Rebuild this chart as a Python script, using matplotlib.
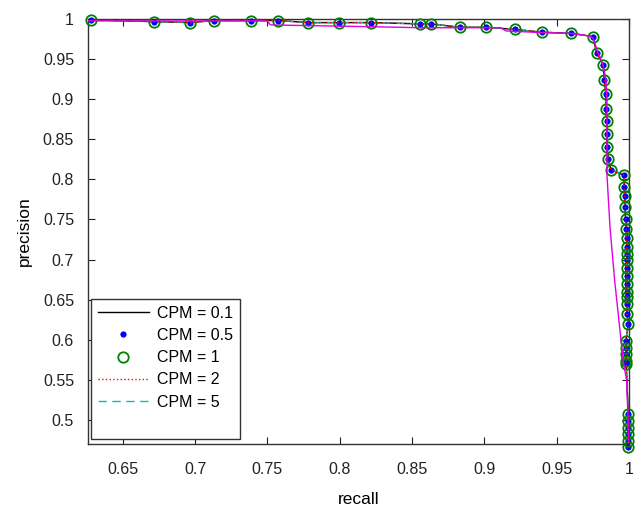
import matplotlib
matplotlib.use("Agg")
import matplotlib.pyplot as plt
from matplotlib.lines import Line2D

plt.rcParams['font.family'] = ['Liberation Sans', 'DejaVu Sans']

# puntos de la curva precision/recall (los CPM casi coinciden)
recall = [0.628, 0.6718, 0.6966, 0.7132, 0.739, 0.7576, 0.7783, 0.7997, 0.8217,
          0.8557, 0.8633, 0.8828, 0.9012, 0.9208, 0.9399, 0.9601, 0.9748, 0.9776,
          0.9821, 0.9828, 0.984, 0.9838, 0.9847, 0.9847, 0.9847, 0.9856, 0.9874,
          0.9966, 0.9966, 0.9970, 0.9972, 0.9975, 0.9980, 0.9983, 0.9983, 0.9985,
          0.9985, 0.9985, 0.9985, 0.9985, 0.9985, 0.9985, 0.9985, 0.9985, 0.9994,
          0.9978, 0.9978, 0.9978, 0.9978, 0.9980,
          0.9994, 0.9994, 0.9994, 0.9994, 0.9994, 0.9994]
precision = [0.9988, 0.9966, 0.9954, 0.998, 0.998, 0.998, 0.9954, 0.9954, 0.9954,
             0.9938, 0.9938, 0.9896, 0.9896, 0.987, 0.9834, 0.982, 0.978, 0.958,
             0.943, 0.924, 0.906, 0.888, 0.873, 0.856, 0.840, 0.825, 0.812,
             0.805, 0.790, 0.779, 0.766, 0.751, 0.738, 0.727, 0.716, 0.707,
             0.699, 0.690, 0.680, 0.670, 0.659, 0.653, 0.645, 0.632, 0.620,
             0.599, 0.590, 0.582, 0.574, 0.570,
             0.507, 0.499, 0.490, 0.482, 0.474, 0.466]

# curva magenta (sin leyenda)
recall_m = [0.626, 0.750, 0.752, 0.830, 0.856, 0.911, 0.915, 0.939, 0.960, 0.9717,
            0.9752, 0.978, 0.982, 0.984, 0.9847, 0.9847, 0.9868, 0.990, 0.9959,
            0.9983, 1.0]
precision_m = [0.9975, 0.9975, 0.9925, 0.990, 0.989, 0.989, 0.985, 0.983, 0.982, 0.979,
               0.976, 0.960, 0.9425, 0.924, 0.899, 0.805, 0.74, 0.674, 0.574,
               0.549, 0.465]

etiquetas = ["CPM = 0.1", "CPM = 0.5", "CPM = 1", "CPM = 2", "CPM = 5"]

figure = plt.figure(figsize=(6.4, 5.11), dpi=100)
axes = figure.add_axes([0.1375, 0.131, 0.8455, 0.832])

axes.plot(recall, precision, '-', color='k', lw=1, label=etiquetas[0])
axes.plot(recall, precision, 'o', color='#0000ff', ms=4.5, mew=0, ls='none',
          label=etiquetas[1], clip_on=False, zorder=3)
axes.plot(recall, precision, 'o', mfc='none', mec='#008000', ms=7.5, mew=1.3,
          ls='none', label=etiquetas[2], clip_on=False, zorder=3)
axes.plot(recall, precision, ':', color='#ff0000', lw=1, label=etiquetas[3], zorder=3)
axes.plot(recall, precision, '--', color='#00bfbf', lw=1, dashes=(6, 4),
          label=etiquetas[4], zorder=2)
axes.plot(recall_m, precision_m, '-', color='#e000e0', lw=1, zorder=4)

axes.set_xlim(0.626, 1.0)
axes.set_ylim(0.47, 1.0)
axes.set_xticks([0.65, 0.7, 0.75, 0.8, 0.85, 0.9, 0.95, 1])
axes.set_xticklabels(["0.65", "0.7", "0.75", "0.8", "0.85", "0.9", "0.95", "1"])
axes.set_yticks([0.5, 0.55, 0.6, 0.65, 0.7, 0.75, 0.8, 0.85, 0.9, 0.95, 1])
axes.set_yticklabels(["0.5", "0.55", "0.6", "0.65", "0.7", "0.75", "0.8",
                      "0.85", "0.9", "0.95", "1"])
axes.tick_params(direction='in', length=5, top=True, right=True,
                 labelsize=11.5, colors='#222222')
axes.tick_params(axis='x', pad=13)
axes.tick_params(axis='y', pad=10)
for s in axes.spines.values():
    s.set_color('#333333')
    s.set_linewidth(1)

axes.set_xlabel("recall", fontsize=12.5, labelpad=11)
axes.set_ylabel("precision", fontsize=12.5, labelpad=8)

# leyenda estilo matlab, con una fila vacia al final
handles, labels = axes.get_legend_handles_labels()
handles.append(Line2D([], [], ls='none'))
labels.append(" ")
leg = axes.legend(handles, labels, loc='lower left', bbox_to_anchor=(0.005, 0.012),
                  borderaxespad=0, fontsize=11.5, handlelength=3.2, handletextpad=0.5,
                  labelspacing=0.45, borderpad=0.45, fancybox=False, framealpha=1,
                  edgecolor='#333333')
leg.get_frame().set_linewidth(1)

figure.savefig("out.png", dpi=100)
